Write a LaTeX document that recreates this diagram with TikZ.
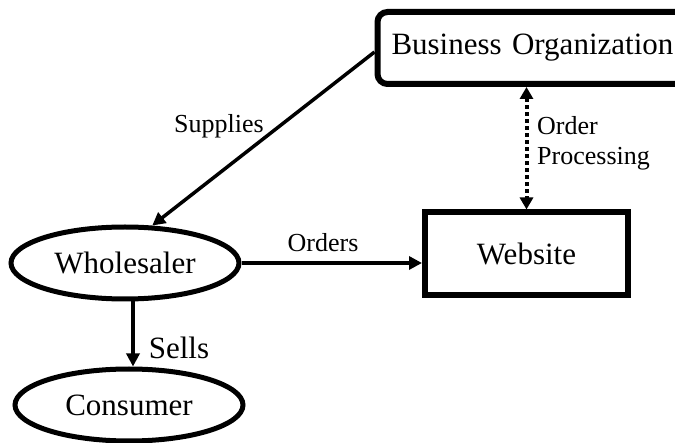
\documentclass[tikz,border=0pt]{standalone}
\usepackage{fontspec}
\setmainfont{Liberation Serif}
\usetikzlibrary{arrows.meta,shapes.geometric}
\begin{document}
\begin{tikzpicture}[x=1pt,y=-1pt,
  big/.style={font=\fontsize{31}{36}\selectfont},
  small/.style={font=\fontsize{26}{30}\selectfont},
  ovalnode/.style={draw,ellipse,line width=5pt,minimum width=228pt,minimum height=72pt,inner sep=0pt,big},
  boxnode/.style={draw,rectangle,line width=6pt,inner sep=0pt,big},
  arr/.style={line width=3.5pt,-{Triangle[length=13pt,width=13pt]}},
  dotarr/.style={line width=4pt,dash pattern=on 4pt off 3pt,{Triangle[length=12pt,width=13pt]}-{Triangle[length=12pt,width=13pt]}},
  lbl/.style={inner sep=0pt}]
\useasboundingbox (0,0) rectangle (675,443);
\node[boxnode,rounded corners=10pt,minimum width=340pt,minimum height=72pt,anchor=west,text width=316pt,align=left,inner xsep=14pt] (biz) at (374.5,48) {Business Organization};
\node[boxnode,minimum width=203pt,minimum height=83pt] (web) at (526.5,254) {Website};
\node[ovalnode] (who) at (125,263) {Wholesaler};
\node[ovalnode] (cons) at (129,405) {Consumer};
\coordinate (sellx) at (133,0);
\draw[arr] ([yshift=-4pt]biz.west) -- (who.54);
\draw[arr] (who.east) -- (who.east -| web.west);
\draw[arr] (who.south -| sellx) -- (cons.north -| sellx);
\draw[dotarr] (web.north |- biz.south) -- (web.north);
\node[lbl,small] (lsup) at (219,126) {Supplies};
\node[lbl,small] (lord) at (323,243) {Orders};
\node[lbl,big] (lsell) at (179,348) {Sells};
\node[lbl,small,align=left,anchor=west] (lproc) at (537,143) {Order\\Processing};
\end{tikzpicture}
\end{document}
